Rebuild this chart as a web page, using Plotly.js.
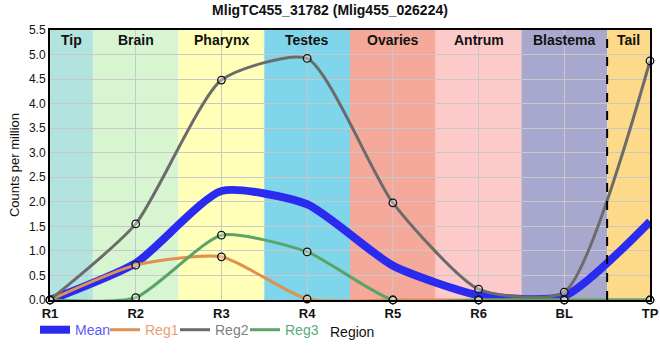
<!DOCTYPE html>
<html><head><meta charset="utf-8">
<script src="https://cdn.plot.ly/plotly-3.0.1.min.js"></script>
<style>body{margin:0;background:#fff}#chart{width:660px;height:360px}</style>
</head><body><div id="chart"></div>
<script>
const regions = ["R1","R2","R3","R4","R5","R6","BL","TP"];
const meanVals = [0.0, 0.75, 2.22, 1.95, 0.70, 0.10, 0.08, 1.60];
const reg1Vals = [0.0, 0.71, 0.88, 0.02, 0.0, 0.0, 0.0, 0.0];
const reg2Vals = [0.0, 1.55, 4.48, 4.92, 1.98, 0.22, 0.16, 4.87];
const reg3Vals = [0.0, 0.05, 1.32, 0.98, 0.0, 0.0, 0.0, 0.0];
const bandNames = ["Tip","Brain","Pharynx","Testes","Ovaries","Antrum","Blastema","Tail"];
const bandStart = [0, 0.5, 1.5, 2.5, 3.5, 4.5, 5.5, 6.5];
const bandEnd   = [0.5, 1.5, 2.5, 3.5, 4.5, 5.5, 6.5, 7];
const bandColors = ["#b3e3df","#d6f5d0","#ffffb8","#7fd5ea","#f4a99b","#fdcaca","#a8a8cf","#fdd98a"];

const sm = 0.6;
const mk = {symbol:"circle", size:7.5, color:"rgba(255,255,255,0.35)", line:{width:1.3, color:"#111"}};
const series = [
  {y:meanVals, label:"Mean", color:"#2b2bf0", text:"#5a5aff", width:8, markers:false, leg:"legend"},
  {y:reg1Vals, label:"Reg1", color:"#e0904f", text:"#e8a070", width:3, markers:true, leg:"legend2"},
  {y:reg2Vals, label:"Reg2", color:"#6b6b6b", text:"#808080", width:3, markers:true, leg:"legend3"},
  {y:reg3Vals, label:"Reg3", color:"#5aa469", text:"#5aaa78", width:3, markers:true, leg:"legend4"}
];
const traces = [];
series.forEach(s=>{
  traces.push({x:regions, y:s.y, mode:"lines", cliponaxis:false, legend:s.leg,
    name:"<span style='color:"+s.text+"'>"+s.label+"</span>",
    line:{color:s.color, width:s.width, shape:"spline", smoothing:sm}});
});
series.forEach(s=>{
  if(s.markers) traces.push({x:regions, y:s.y, mode:"markers", showlegend:false, cliponaxis:false, marker:mk});
});

const shapes = bandNames.map((n,i)=>({type:"rect", layer:"below", xref:"x", yref:"paper",
  x0:bandStart[i], x1:bandEnd[i], y0:0, y1:1, fillcolor:bandColors[i], line:{width:0}}));
shapes.push({type:"line", xref:"x", yref:"paper", x0:6.5, x1:6.5, y0:0, y1:1,
  line:{color:"#000", width:2, dash:"dash"}});
const annotations = bandNames.map((n,i)=>({xref:"x", yref:"paper", x:(bandStart[i]+bandEnd[i])/2, y:1,
  yanchor:"top", yshift:0, text:"<b>"+n+"</b>", showarrow:false, font:{size:14, color:"#111"}}));
annotations.push({xref:"paper", yref:"paper", x:0.5, xshift:2, y:-0.117, yanchor:"middle",
  text:"Region", showarrow:false, font:{size:14, color:"#111"}});

const legBase = {orientation:"h", xref:"container", yref:"container", xanchor:"left", y:0.083, yanchor:"middle",
  font:{size:14}, bgcolor:"rgba(0,0,0,0)", itemwidth:30};
const legX = [35, 105, 175, 245];

const layout = {
  width:660, height:360,
  margin:{l:50, r:10, t:30, b:60},
  paper_bgcolor:"#fff", plot_bgcolor:"#fff",
  font:{family:"Liberation Sans, Arial, sans-serif", size:12, color:"#111"},
  title:{text:"<b>MligTC455_31782 (Mlig455_026224)</b>", x:0.5, xanchor:"center", y:0.985, yanchor:"top",
    font:{size:14, color:"#111"}},
  xaxis:{type:"category", range:[0,7], showgrid:true, gridcolor:"#c8c8c8", gridwidth:1,
    showline:true, linecolor:"#000", linewidth:2, mirror:true, ticks:"", zeroline:false,
    tickfont:{size:13, weight:"bold"}, automargin:false},
  yaxis:{range:[0,5.5], dtick:0.5, tickformat:".1f", showgrid:true, gridcolor:"#c8c8c8",
    showline:true, linecolor:"#000", linewidth:2, mirror:true, zeroline:false, ticks:"",
    tickfont:{size:12}, automargin:false,
    title:{text:"Counts per million", font:{size:13}, standoff:6}},
  legend: Object.assign({}, legBase, {x:legX[0]/660}),
  legend2: Object.assign({}, legBase, {x:legX[1]/660}),
  legend3: Object.assign({}, legBase, {x:legX[2]/660}),
  legend4: Object.assign({}, legBase, {x:legX[3]/660}),
  showlegend:true,
  shapes:shapes, annotations:annotations
};
Plotly.newPlot("chart", traces, layout, {displayModeBar:false, staticPlot:true});
</script></body></html>
